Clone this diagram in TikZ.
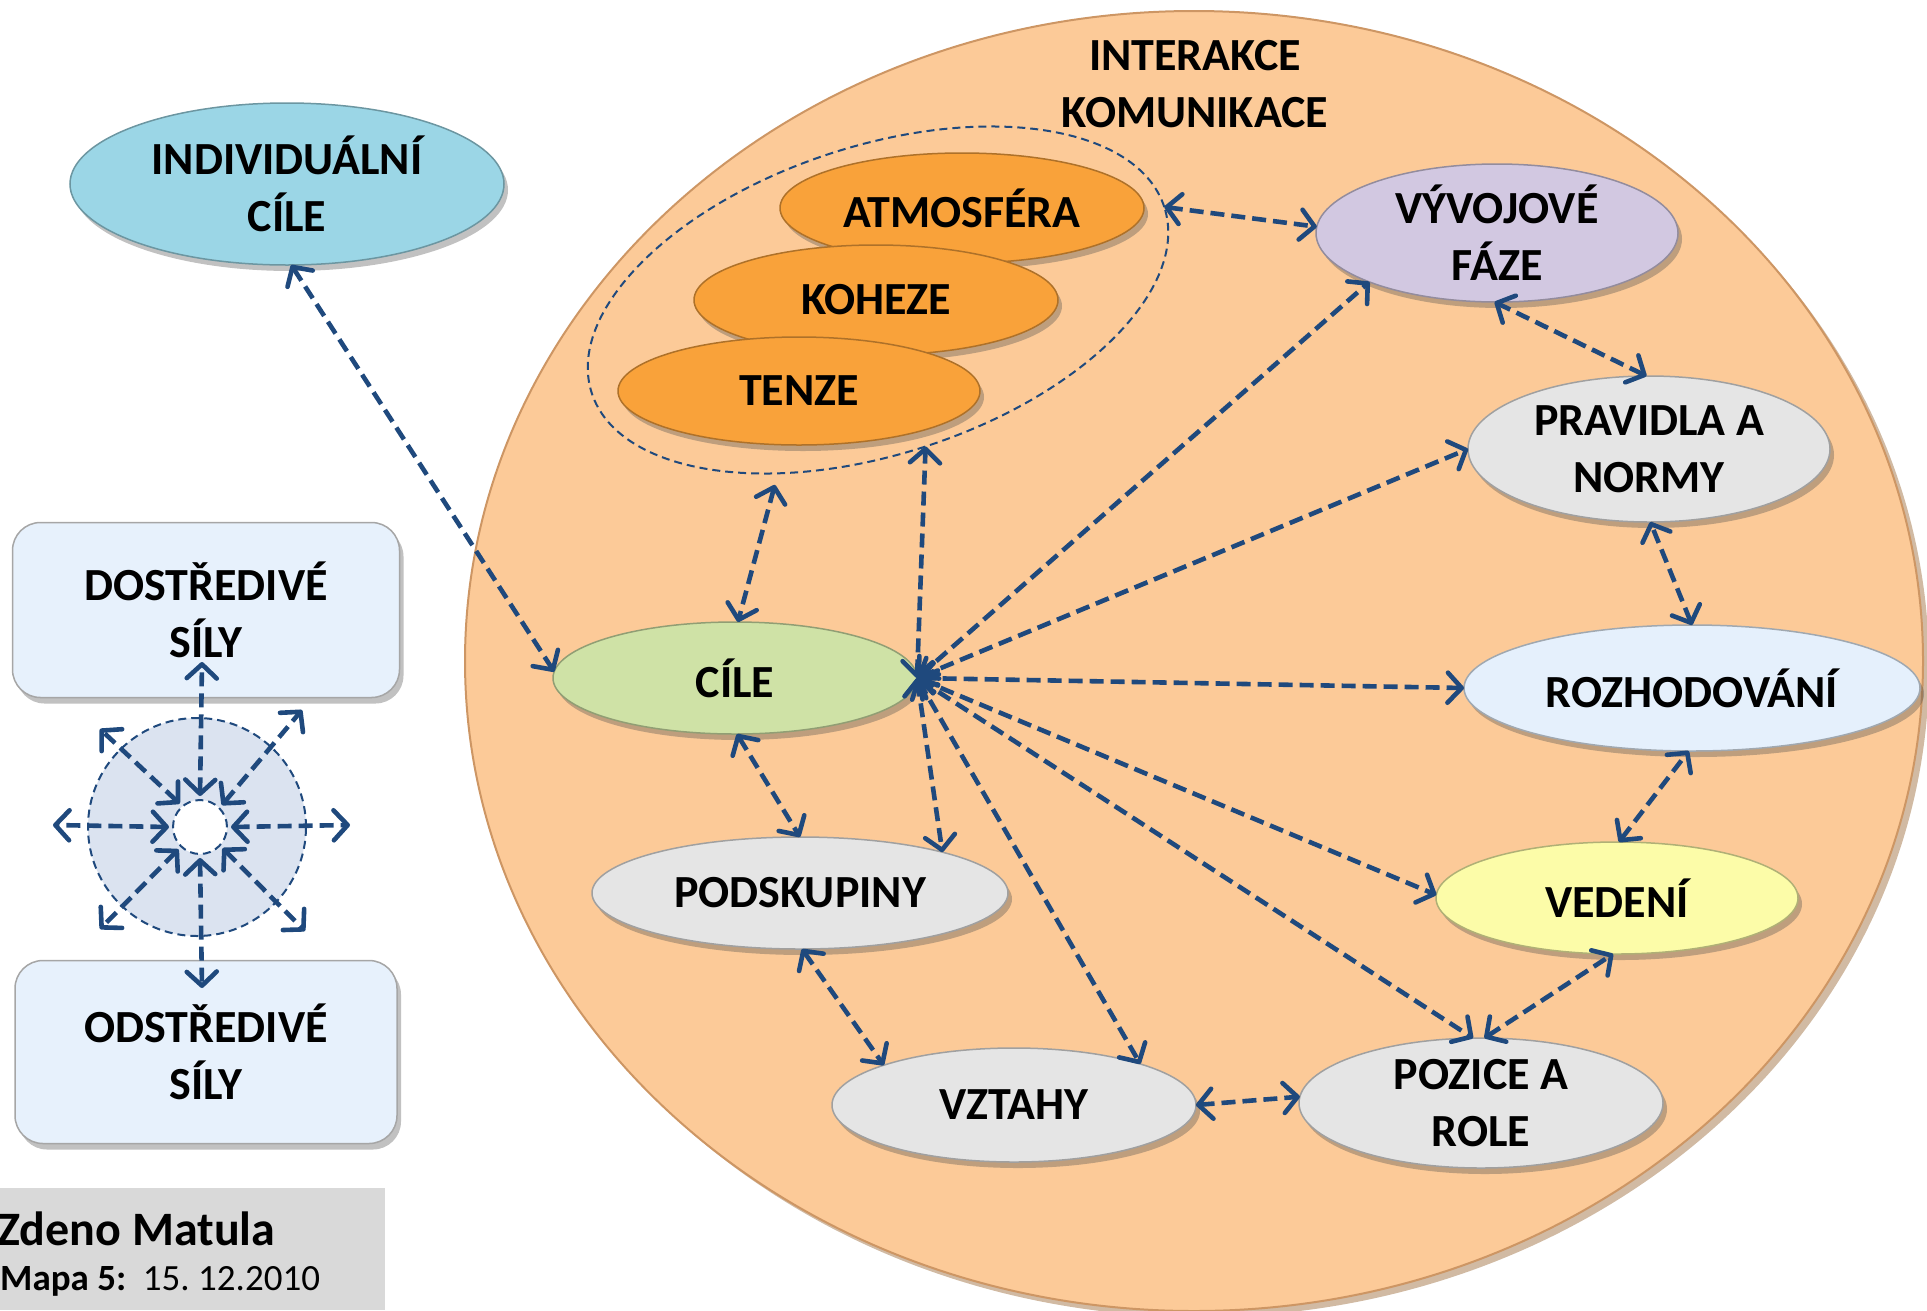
\documentclass[tikz,border=0pt]{standalone}
\usepackage{fontspec}
\setmainfont{Carlito}
\usetikzlibrary{shapes.geometric,arrows.meta,shadows}
\definecolor{peach}{RGB}{252,202,152}
\definecolor{peachedge}{RGB}{205,150,100}
\definecolor{arrowblue}{RGB}{31,73,125}
\definecolor{orangec}{RGB}{249,162,58}
\definecolor{cyanc}{RGB}{155,214,230}
\definecolor{greenc}{RGB}{207,226,166}
\definecolor{lavc}{RGB}{210,200,225}
\definecolor{greyc}{RGB}{229,229,229}
\definecolor{lbluec}{RGB}{229,240,252}
\definecolor{yellc}{RGB}{252,252,168}
\definecolor{boxblue}{RGB}{231,241,252}
\definecolor{forcefill}{RGB}{219,227,240}
\definecolor{graybox}{RGB}{217,217,217}
\newcommand\bigfs{\fontsize{46}{57}\selectfont\bfseries}
\frenchspacing
\tikzset{
  shad/.style={drop shadow={shadow xshift=4pt,shadow yshift=-6pt,opacity=0.35,fill=black!70}},
  bubble/.style={ellipse, fill=#1, draw=#1!70!black, line width=1.5pt, inner sep=0pt, outer sep=0pt,
    align=center, font=\bigfs, shad},
  conn/.style={draw=arrowblue, line width=4.6pt, dash pattern=on 14pt off 7pt, <->},
  thindash/.style={draw=arrowblue, line width=2pt, dash pattern=on 8pt off 5pt},
  forcebox/.style={rectangle, rounded corners=28pt, fill=boxblue, draw=black!35, line width=1.5pt,
    inner sep=0pt, align=center, font=\bigfs, shad},
}
\begin{document}
\begin{tikzpicture}[x=1pt,y=1pt,>={Straight Barb[length=14pt,width=30pt,round]}]
\useasboundingbox (0,0) rectangle (1927,-1310);

% big group field
\node[ellipse, fill=peach, draw=peachedge, line width=2pt, minimum width=1458pt, minimum height=1300pt,
  inner sep=0pt, drop shadow={shadow xshift=6pt,shadow yshift=-6pt,opacity=0.45,fill=brown!80!black}]
  (field) at (1194,-661) {};
\node[font=\bigfs, align=center] (title) at (1195,-84) {INTERAKCE\\KOMUNIKACE};

% dashed group ellipse
\node[ellipse, thindash, minimum width=602pt, minimum height=308pt, inner sep=0pt, outer sep=0pt, rotate=18]
  (grp) at (878,-300) {};

% orange climate nodes
\node[bubble=orangec, minimum width=364pt, minimum height=110pt] (atm) at (962,-208) {ATMOSFÉRA};
\node[bubble=orangec, minimum width=364pt, minimum height=110pt] (koh) at (876,-300) {KOHEZE};
\node[bubble=orangec, minimum width=362pt, minimum height=108pt] (ten) at (799,-391) {TENZE};

% other nodes
\node[bubble=cyanc, minimum width=434pt, minimum height=162pt] (indiv) at (287,-184) {INDIVIDUÁLNÍ\\CÍLE};
\node[bubble=greenc, minimum width=364pt, minimum height=112pt] (cile) at (735,-678) {CÍLE};
\node[bubble=greyc, minimum width=416pt, minimum height=112pt] (pod) at (800,-893) {PODSKUPINY};
\node[bubble=greyc, minimum width=364pt, minimum height=114pt] (vzt) at (1014,-1105) {VZTAHY};
\node[bubble=greyc, minimum width=364pt, minimum height=130pt] (poz) at (1481,-1103) {POZICE A\\ROLE};
\node[bubble=yellc, minimum width=362pt, minimum height=112pt] (ved) at (1617,-898) {VEDENÍ};
\node[bubble=lbluec, minimum width=456pt, minimum height=126pt] (roz) at (1692,-688) {ROZHODOVÁNÍ};
\node[bubble=greyc, minimum width=362pt, minimum height=146pt] (prav) at (1649,-449) {PRAVIDLA A\\NORMY};
\node[bubble=lavc, minimum width=362pt, minimum height=138pt] (vyv) at (1497,-233) {VÝVOJOVÉ\\FÁZE};

% forces panel
\node[forcebox, minimum width=387pt, minimum height=175pt] (dost) at (206,-610) {DOSTŘEDIVÉ\\SÍLY};
\node[forcebox, minimum width=382pt, minimum height=183pt] (odst) at (206,-1052) {ODSTŘEDIVÉ\\SÍLY};
\node[circle, fill=forcefill, thindash, minimum size=218pt, inner sep=0pt] (forcefield) at (197,-827) {};
\node[circle, fill=white, thindash, minimum size=54pt, inner sep=0pt, outer sep=4pt] (core) at (200,-827) {};
\coordinate (fU) at (202,-662);
\coordinate (fD) at (202,-988);
\coordinate (fL) at (53,-825);
\coordinate (fR) at (350,-825);
\coordinate (fUL) at (100,-729);
\coordinate (fUR) at (302,-710);
\coordinate (fLL) at (100,-929);
\coordinate (fLR) at (305,-931);
\draw[conn] (core.90) -- (fU);
\draw[conn] (core.270) -- (fD);
\draw[conn] (core.180) -- (fL);
\draw[conn] (core.0) -- (fR);
\draw[conn] (core.131) -- (fUL);
\draw[conn] (core.45) -- (fUR);
\draw[conn] (core.226) -- (fLL);
\draw[conn] (core.317) -- (fLR);

% author box
\node[fill=graybox, minimum width=385pt, minimum height=122pt, inner sep=0pt, anchor=north west] (authorbox) at (0,-1188) {};
\node[anchor=base west, inner sep=0pt, font=\fontsize{48}{56}\selectfont\bfseries] (author) at (-3,-1245) {Zdeno Matula};
\node[anchor=base west, inner sep=0pt, font=\fontsize{37}{44}\selectfont] (mapa) at (0,-1290) {\textbf{Mapa 5:}\ \ 15. 12.2010};

% connectors
\draw[conn] (indiv.273) -- (cile.178);
\draw[conn, shorten <=12pt] (grp.222) -- (cile.87);
\draw[conn] (grp.0) -- (vyv.178);
\draw[conn] (cile.east) -- (grp.270);
\draw[conn] (cile.east) -- (vyv.201);
\draw[conn] (cile.east) -- (prav.180);
\draw[conn] (cile.east) -- (roz.180);
\draw[conn] (cile.east) -- (ved.179);
\draw[conn] (cile.east) -- (poz.97);
\draw[conn] (cile.east) -- (vzt.18);
\draw[conn] (cile.east) -- (pod.16);
\draw[conn] (cile.272) -- (pod.90);
\draw[conn] (pod.272) -- (vzt.163);
\draw[conn] (vzt.0) -- (poz.178);
\draw[conn] (poz.87) -- (ved.266);
\draw[conn] (ved.88) -- (roz.267);
\draw[conn] (roz.90) -- (prav.271);
\draw[conn] (prav.92) -- (vyv.268);
\end{tikzpicture}
\end{document}
